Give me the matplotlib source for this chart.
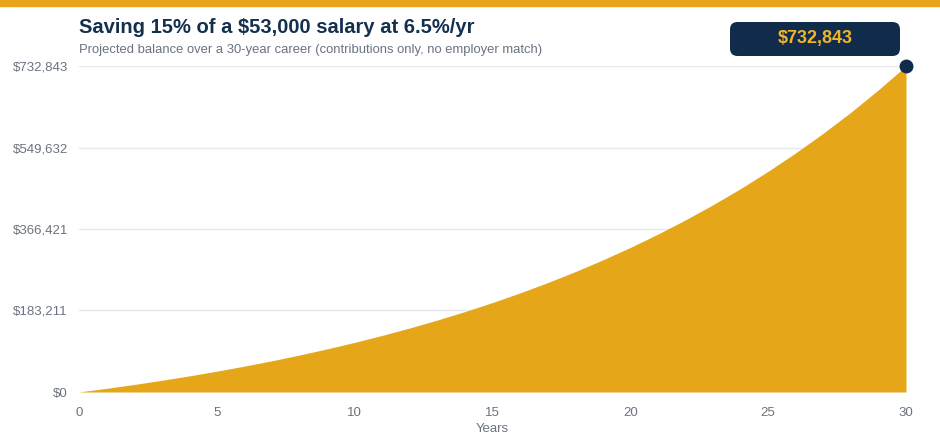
import matplotlib.pyplot as plt
from matplotlib.patches import Rectangle, FancyBboxPatch

plt.rcParams['font.family'] = ['Liberation Sans', 'DejaVu Sans']

# Balance at the end of each year
years = list(range(0, 31))
balance = [0, 8200, 16900, 26300, 36200, 46800, 58200, 70200, 83100, 96900,
           111600, 127200, 144000, 161800, 180800, 201100, 222800, 245900,
           270500, 296900, 324900, 354900, 386900, 421000, 457300, 496200,
           537600, 581800, 628900, 679300, 732843]
final_label = "$732,843"
y_ticks = [0, 183211, 366421, 549632, 732843]
y_tick_labels = ["$0", "$183,211", "$366,421", "$549,632", "$732,843"]
x_ticks = [0, 5, 10, 15, 20, 25, 30]

GOLD = '#e5a619'
NAVY = '#112c4b'
GREY = '#6b7280'
W, H = 940, 440

fig = plt.figure(figsize=(9.4, 4.4), dpi=100)
ax = fig.add_axes([79/W, 1-392/H, (906-79)/W, (392-66)/H])

ax.fill_between(years, balance, 0, color=GOLD, linewidth=0, zorder=2)
ax.plot(years[-1], balance[-1], 'o', color=NAVY, markersize=9, clip_on=False, zorder=4)

ax.set_xlim(0, 30)
ax.set_ylim(0, 732843)
ax.set_yticks(y_ticks)
ax.set_yticklabels(y_tick_labels)
ax.set_xticks(x_ticks)
ax.grid(axis='y', color='#e5e9ef', linewidth=1, zorder=0)
ax.tick_params(length=0, labelsize=9.5, colors=GREY)
ax.tick_params(axis='y', pad=8)
ax.tick_params(axis='x', pad=11)
for s in ax.spines.values():
    s.set_visible(False)
ax.set_xlabel('Years', fontsize=9.5, color=GREY, labelpad=3)

# top accent bar
fig.patches.append(Rectangle((0, 1-6/H), 1, 6/H, transform=fig.transFigure,
                             color='#e8a519', zorder=5))

fig.text(79/W, 1-33/H, 'Saving 15% of a $53,000 salary at 6.5%/yr',
         fontsize=14.5, fontweight='bold', color='#14304f')
fig.text(79/W, 1-53/H, 'Projected balance over a 30-year career (contributions only, no employer match)',
         fontsize=9.4, color=GREY)

# value badge
fig.patches.append(FancyBboxPatch((730/W, 1-56/H), 170/W, 34/H,
                                  boxstyle='round,pad=0,rounding_size=0.008',
                                  transform=fig.transFigure, fc=NAVY, ec='none',
                                  mutation_aspect=W/H))
fig.text(815/W, 1-39/H, final_label, ha='center', va='center', fontsize=13,
         fontweight='bold', color='#f0b429')

fig.savefig('out.png', dpi=100)
